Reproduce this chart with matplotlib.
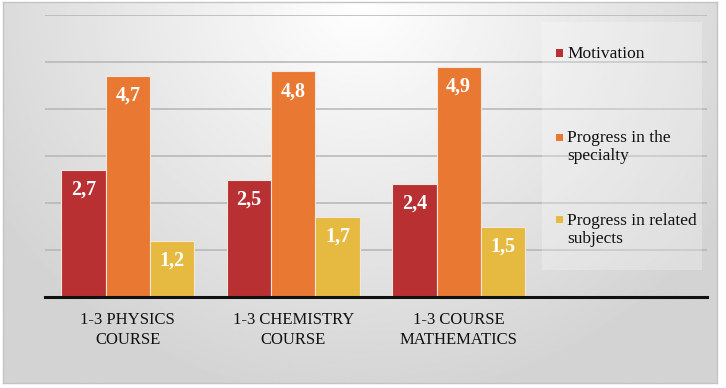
import matplotlib
matplotlib.use("Agg")
import matplotlib.pyplot as plt
import numpy as np
from matplotlib.patches import Rectangle

categories = ["1-3 PHYSICS\nCOURSE", "1-3 CHEMISTRY\nCOURSE", "1-3 COURSE\nMATHEMATICS"]
series_names = ["Motivation", "Progress in the\nspecialty", "Progress in related\nsubjects"]
motivation = [2.7, 2.5, 2.4]
specialty = [4.7, 4.8, 4.9]
related = [1.2, 1.7, 1.5]
colors = ["#B83032", "#E97832", "#E6BA40"]

plt.rcParams['font.family'] = 'serif'
plt.rcParams['font.serif'] = ['Liberation Serif', 'DejaVu Serif']

W, H = 726, 388
fig = plt.figure(figsize=(W / 100, H / 100), dpi=100)
fig.patch.set_facecolor("white")

def fx(px):
    return px / W

def fy(py):
    return 1 - py / H

# background gradient
bg = fig.add_axes([0.004, 0.012, 0.984, 0.982])
yy, xx = np.mgrid[0:200, 0:400]
xn = xx / 399.0
yn = yy / 199.0
d = np.sqrt(((xn - 0.5) / 0.6) ** 2 + ((yn - 0.0) / 1.05) ** 2)
val = 1.0 - 0.17 * np.clip(d, 0, 1.0)
bg.imshow(val, cmap="gray", vmin=0, vmax=1, aspect="auto", extent=[0, 1, 1, 0], interpolation="bilinear")
bg.set_xticks([]); bg.set_yticks([])
for s in bg.spines.values():
    s.set_color("#c4c4c4"); s.set_linewidth(1.0)

ax = fig.add_axes([fx(45), fy(297), (707 - 45) / W, (297 - 15) / H])
ax.patch.set_alpha(0)
ax.set_xlim(-0.5, 3.5)
ax.set_ylim(0, 6)

x = np.arange(len(categories))
bw = 0.267
all_series = [motivation, specialty, related]
for i, (vals, c, name) in enumerate(zip(all_series, colors, series_names)):
    bars = ax.bar(x + (i - 1) * bw, vals, bw, color=c, edgecolor="#f3e6dc", linewidth=0.8,
                  label=name, zorder=3)
    for b, v in zip(bars, vals):
        ax.text(b.get_x() + b.get_width() / 2, v - 0.42, f"{v:.1f}".replace(".", ","),
                ha="center", va="center", color="white", fontsize=14.5, fontweight="bold", zorder=4)

ax.set_yticks([1, 2, 3, 4, 5, 6])
ax.yaxis.grid(True, color="#b5b5b5", linewidth=1.1, zorder=1)
ax.tick_params(axis="y", left=False, labelleft=False)
ax.set_xticks(x)
ax.set_xticklabels(categories, fontsize=12, color="#111111", linespacing=1.3)
ax.tick_params(axis="x", length=0, pad=11)
for k in ["top", "right", "left"]:
    ax.spines[k].set_visible(False)
ax.spines["bottom"].set_color("#111111")
ax.spines["bottom"].set_linewidth(2.2)
ax.spines["bottom"].set_zorder(5)

# legend (manual layout)
fig.patches.append(Rectangle((fx(542), fy(270)), fx(702) - fx(542), fy(22) - fy(270),
                             transform=fig.transFigure, facecolor="white", alpha=0.25,
                             edgecolor="none", zorder=2))
baselines = [58, 142, 225]
for name, c, b in zip(series_names, colors, baselines):
    fig.patches.append(Rectangle((fx(556), fy(b - 1.5)), 7 / W, 7 / H, transform=fig.transFigure,
                                 facecolor=c, edgecolor="none", zorder=5))
    for k, line in enumerate(name.split("\n")):
        fig.text(fx(567), fy(b + k * 18), line, ha="left", va="baseline", fontsize=12.5,
                 color="#111111", zorder=5)

fig.savefig("out.png", dpi=100)
